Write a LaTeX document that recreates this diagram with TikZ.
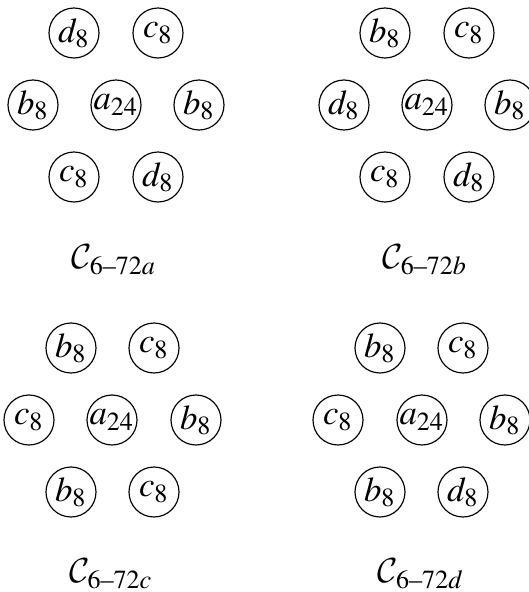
\documentclass[tikz,border=0pt]{standalone}
\usepackage{amsmath}
\usepackage{mathptmx}
\usepackage[no-math]{fontspec}
\setmainfont{Liberation Serif}
\usepackage{tikz}
\DeclareMathAlphabet{\mathcalc}{OMS}{cmsy}{m}{n}

\begin{document}
\begin{tikzpicture}[
  x=0.345pt, y=-0.345pt,
  font=\large,
  site/.style ={draw, circle, thin, inner sep=0pt, minimum size=17.25pt},
  cname/.style={inner sep=0pt}
]
\useasboundingbox (0,0) rectangle (529,592);

% configuration a
\node[site] (a-ul) at (74,33)   {$d_8$};
\node[site] (a-ur) at (158,33)  {$c_8$};
\node[site] (a-l)  at (33,105)  {$b_8$};
\node[site] (a-c)  at (116,105) {$a_{24}$};
\node[site] (a-r)  at (199,105) {$b_8$};
\node[site] (a-ll) at (74,177)  {$c_8$};
\node[site] (a-lr) at (158,177) {$d_8$};
\node[cname] (a-lab) at (114,260) {$\mathcalc{C}_{6\text{--}72a}$};

% configuration b
\node[site] (b-ul) at (385,33)  {$b_8$};
\node[site] (b-ur) at (469,33)  {$c_8$};
\node[site] (b-l)  at (344,105) {$d_8$};
\node[site] (b-c)  at (427,105) {$a_{24}$};
\node[site] (b-r)  at (510,105) {$b_8$};
\node[site] (b-ll) at (385,177) {$c_8$};
\node[site] (b-lr) at (469,177) {$d_8$};
\node[cname] (b-lab) at (425,260) {$\mathcalc{C}_{6\text{--}72b}$};

% configuration c
\node[site] (c-ul) at (71,348)  {$b_8$};
\node[site] (c-ur) at (154,348) {$c_8$};
\node[site] (c-l)  at (29,420)  {$c_8$};
\node[site] (c-c)  at (112,420) {$a_{24}$};
\node[site] (c-r)  at (196,420) {$b_8$};
\node[site] (c-ll) at (71,492)  {$b_8$};
\node[site] (c-lr) at (154,492) {$c_8$};
\node[cname] (c-lab) at (111,574) {$\mathcalc{C}_{6\text{--}72c}$};

% configuration d
\node[site] (d-ul) at (380,348) {$b_8$};
\node[site] (d-ur) at (463,348) {$c_8$};
\node[site] (d-l)  at (338,420) {$c_8$};
\node[site] (d-c)  at (422,420) {$a_{24}$};
\node[site] (d-r)  at (505,420) {$b_8$};
\node[site] (d-ll) at (380,492) {$b_8$};
\node[site] (d-lr) at (463,492) {$d_8$};
\node[cname] (d-lab) at (421,574) {$\mathcalc{C}_{6\text{--}72d}$};

\end{tikzpicture}
\end{document}
